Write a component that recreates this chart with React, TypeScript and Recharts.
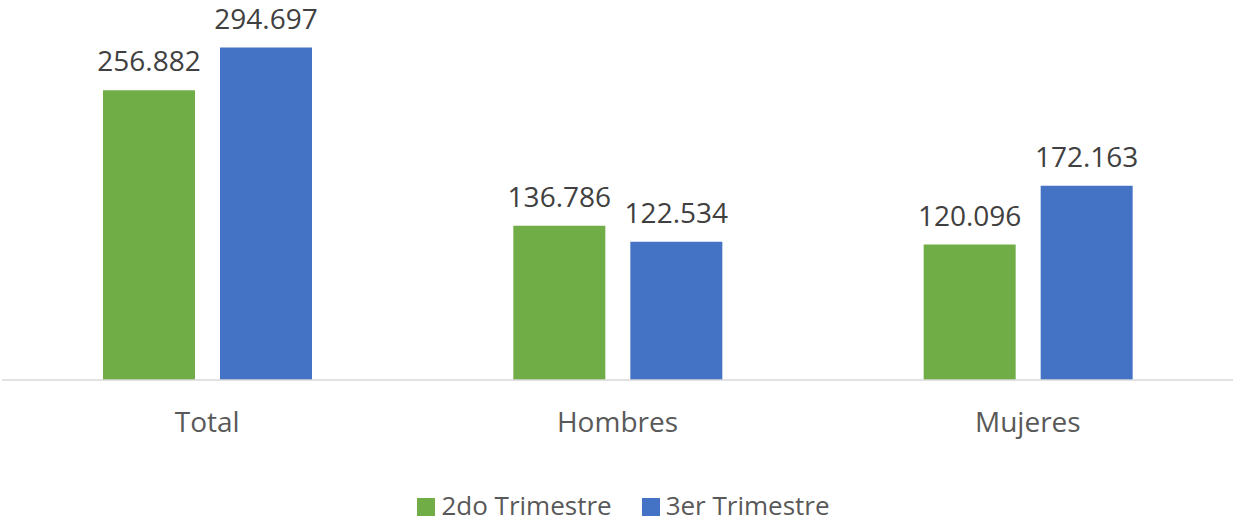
import React from "react";
import { BarChart, Bar, XAxis, YAxis, LabelList, Legend } from "recharts";

const categories = ["Total", "Hombres", "Mujeres"];
const serie2do = [256.882, 136.786, 120.096];
const serie3er = [294.697, 122.534, 172.163];
const seriesNames = ["2do Trimestre", "3er Trimestre"];

const data = categories.map((c, i) => ({ name: c, s2: serie2do[i], s3: serie3er[i] }));

const FONT = "'Open Sans', 'Noto Sans', sans-serif";

const fmt = (v: number) => v.toFixed(3);

const LegendContent = (props: any) => {
  const payload = props.payload || [];
  return (
    <div style={{ height: 32, boxSizing: "border-box", paddingTop: 1, paddingLeft: 12, display: "flex", justifyContent: "center", alignItems: "flex-start", fontFamily: FONT, fontSize: 26, lineHeight: "26px", color: "#595959" }}>
      {payload.map((p: any, i: number) => (
        <div key={i} style={{ display: "flex", alignItems: "center", marginLeft: i === 0 ? 0 : 30 }}>
          <div style={{ width: 18, height: 18, background: p.color, marginRight: 6, marginTop: 4 }} />
          <span>{p.value}</span>
        </div>
      ))}
    </div>
  );
};

export default function App() {
  return (
    <div style={{ position: "absolute", left: 0, top: 0, width: 1235, height: 523, background: "#fff" }}>
      <BarChart
        width={1235}
        height={523}
        data={data}
        margin={{ top: 41.6, right: 2, left: 2, bottom: 0 }}
        barSize={92}
        barGap={25}
      >
        <XAxis
          dataKey="name"
          axisLine={{ stroke: "#D9D9D9", strokeWidth: 1.5 }}
          tickLine={false}
          tickSize={0}
          tickMargin={32}
          height={111}
          tick={{ fill: "#595959", fontSize: 28, fontFamily: FONT }}
          interval={0}
        />
        <YAxis hide domain={[0, 300]} />
        <Legend verticalAlign="bottom" content={<LegendContent />} />
        <Bar dataKey="s2" name={seriesNames[0]} fill="#70AD47" isAnimationActive={false}>
          <LabelList dataKey="s2" position="top" offset={19} formatter={fmt as any} style={{ fill: "#404040", fontSize: 28, fontFamily: FONT }} />
        </Bar>
        <Bar dataKey="s3" name={seriesNames[1]} fill="#4472C4" isAnimationActive={false}>
          <LabelList dataKey="s3" position="top" offset={19} formatter={fmt as any} style={{ fill: "#404040", fontSize: 28, fontFamily: FONT }} />
        </Bar>
      </BarChart>
    </div>
  );
}
